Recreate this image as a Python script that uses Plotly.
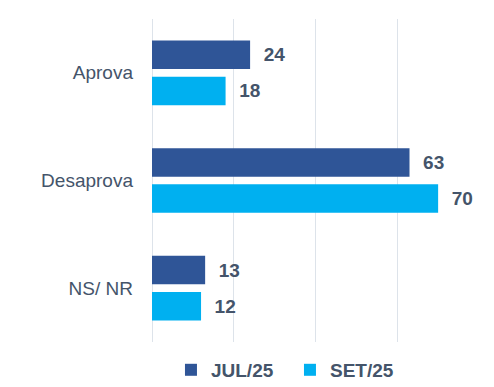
import plotly.graph_objects as go

categories = ["Aprova", "Desaprova", "NS/ NR"]
series_names = ["JUL/25", "SET/25"]
jul_values = [24, 63, 13]
set_values = [18, 70, 12]
colors = ["#2F5597", "#00B0F0"]
x_ticks = [0, 20, 40, 60, 80]

fig = go.Figure()
for name, vals, col in zip(series_names, [jul_values, set_values], colors):
    fig.add_trace(go.Bar(
        y=categories, x=vals, name=name, orientation="h",
        marker=dict(color=col, line=dict(width=0)),
        text=vals, texttemplate="\u00a0\u00a0%{x}", textposition="outside",
        cliponaxis=False,
        textfont=dict(family="Liberation Sans, Arial", size=19, color="#44546A", weight="bold"),
        hoverinfo="skip",
    ))

# page body has an 8px margin, so the figure is sized to fit the 494x387 window
fig.update_layout(
    width=478, height=379,
    margin=dict(l=144, r=7, t=11, b=45, autoexpand=False),
    paper_bgcolor="white", plot_bgcolor="white",
    barmode="group", bargap=0.328, bargroupgap=0.213,
    font=dict(family="Liberation Sans, Arial", size=19, color="#44546A"),
    xaxis=dict(range=[0, 80], tickvals=x_ticks, showticklabels=False,
               showgrid=True, gridcolor="#DDE3EA", gridwidth=1, automargin=False,
               zeroline=True, zerolinecolor="#DDE3EA", zerolinewidth=1, showline=False),
    yaxis=dict(autorange="reversed", ticks="", showline=False, showgrid=False,
               automargin=False,
               ticklabelstandoff=18, tickfont=dict(size=19, color="#44546A")),
    legend=dict(orientation="h", x=0.058, xanchor="left",
                yref="container", y=0.045, yanchor="middle",
                entrywidth=74, entrywidthmode="pixels",
                font=dict(size=19, color="#44546A", weight="bold"),
                traceorder="normal", itemclick=False),
    showlegend=True,
)

fig.write_html("out.html")
